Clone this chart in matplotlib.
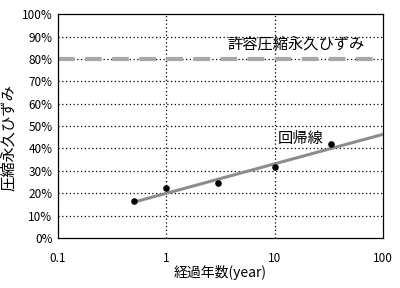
import numpy as np
import matplotlib.pyplot as plt
from matplotlib.ticker import FixedLocator, FuncFormatter

plt.rcParams['font.family'] = ['Noto Sans CJK JP', 'DejaVu Sans']

# measured points
years = [0.5, 1.0, 3.0, 10.0, 33.0]
strain = [16.6, 22.2, 24.7, 31.8, 42.0]

# regression line end points
reg_x = [0.5, 100.0]
reg_y = [16.0, 46.3]

# allowable compression set
limit_x = [0.1, 100.0]
limit_y = [80.0, 80.0]

yticks = [0, 10, 20, 30, 40, 50, 60, 70, 80, 90, 100]
xticks = [0.1, 1, 10, 100]
xticklabels = ['0.1', '1', '10', '100']


def main():
    fig = plt.figure(figsize=(4.0, 2.88), dpi=100)
    ax = fig.add_axes([0.145, 0.1736, 0.8125, 0.7774])

    ax.set_xscale('log')
    ax.set_xlim(0.1, 100)
    ax.set_ylim(0, 100)

    # dotted grid
    for v in yticks[1:-1]:
        ax.axhline(v, color='black', lw=0.9, ls=(0, (1, 2)), zorder=1)
    for v in [1, 10]:
        ax.axvline(v, color='black', lw=0.9, ls=(0, (1, 2)), zorder=1)

    ax.plot(limit_x, limit_y, color='#a8a8a8', lw=3, ls=(0, (4, 2.5)), zorder=2)
    ax.plot(reg_x, reg_y, color='#8c8c8c', lw=2.2, zorder=3)
    ax.scatter(years, strain, s=14, color='black', zorder=4)

    ax.text(3.7, 84.5, '許容圧縮永久ひずみ', fontsize=11)
    ax.text(10.7, 42.5, '回帰線', fontsize=11)

    ax.yaxis.set_major_locator(FixedLocator(yticks))
    ax.yaxis.set_major_formatter(FuncFormatter(lambda v, p: '%d%%' % v))
    ax.xaxis.set_major_locator(FixedLocator(xticks))
    ax.xaxis.set_minor_locator(FixedLocator([]))
    ax.set_xticklabels(xticklabels)
    ax.tick_params(axis='both', length=0, labelsize=8.5)
    ax.tick_params(axis='x', pad=10)
    ax.tick_params(axis='y', pad=4)

    for s in ax.spines.values():
        s.set_linewidth(0.9)

    ax.set_ylabel('圧縮永久ひずみ', fontsize=11, labelpad=1)
    ax.yaxis.set_label_coords(-0.125, 0.45)
    ax.set_xlabel('経過年数(year)', fontsize=10, labelpad=0)

    fig.savefig('out.png', dpi=100)


if __name__ == "__main__":
    main()
